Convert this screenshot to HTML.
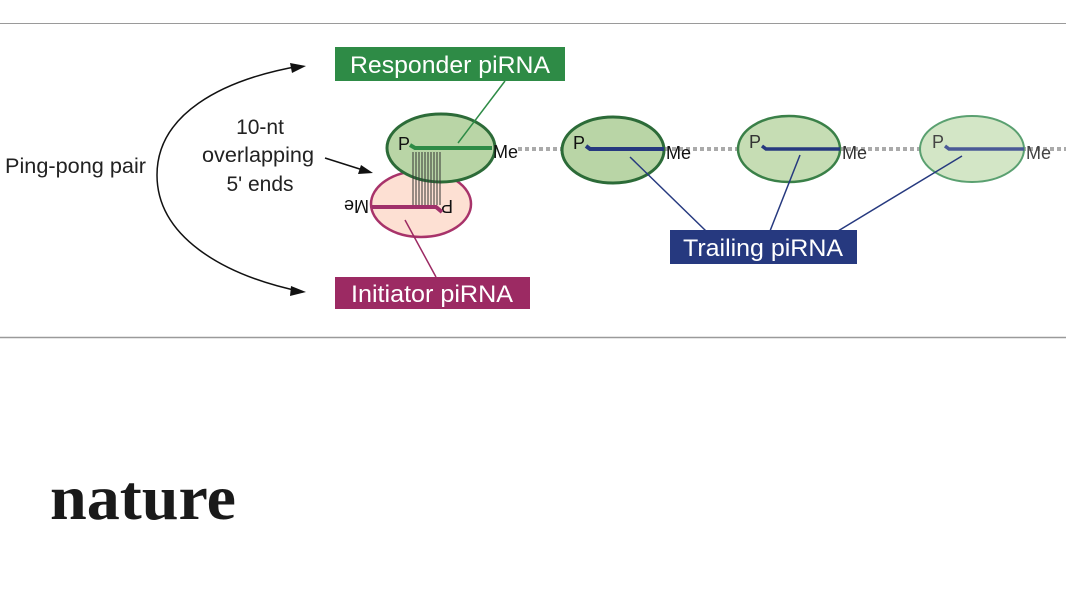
<!DOCTYPE html>
<html><head><meta charset="utf-8"><style>
html,body{margin:0;padding:0;background:#fff;}
svg{display:block;}
.s{font-family:"Liberation Sans",sans-serif;}
</style></head><body>
<svg width="1066" height="600" viewBox="0 0 1066 600" xmlns="http://www.w3.org/2000/svg">
<line x1="0" y1="23.5" x2="1066" y2="23.5" stroke="#9a9a9a" stroke-width="1"/>
<line x1="0" y1="337.5" x2="1066" y2="337.5" stroke="#9a9a9a" stroke-width="1.5"/>
<g class="s">
<text x="5" y="173" font-size="21" fill="#222" textLength="141" lengthAdjust="spacingAndGlyphs">Ping-pong pair</text>
<text x="260" y="134" font-size="21" fill="#222" text-anchor="middle">10-nt</text>
<text x="258" y="162" font-size="21" fill="#222" text-anchor="middle" textLength="112" lengthAdjust="spacingAndGlyphs">overlapping</text>
<text x="260" y="191" font-size="21" fill="#222" text-anchor="middle">5' ends</text>
</g>
<path d="M300,66 C220,80 157,115 157,175 C157,235 220,275 303,292" fill="none" stroke="#111" stroke-width="1.5"/>
<path d="M290,63 L306,66 L292,73 Z" fill="#111"/>
<path d="M291,286 L306,292 L290,296 Z" fill="#111"/>
<line x1="325" y1="158" x2="366" y2="171" stroke="#111" stroke-width="1.5"/>
<path d="M361,165 L373,173 L358,174 Z" fill="#111"/>

<line x1="518" y1="149" x2="1066" y2="149" stroke="#aaa" stroke-width="4" stroke-dasharray="4,3"/>

<ellipse cx="421" cy="204" rx="50" ry="33" fill="#fde0d3" stroke="#a8336a" stroke-width="2.5"/>
<ellipse cx="441" cy="148" rx="54" ry="34" fill="#b9d5a6" stroke="#2c6b38" stroke-width="3"/>
<g stroke="#333" stroke-width="1">
<line x1="413" y1="152" x2="413" y2="205"/><line x1="416" y1="152" x2="416" y2="205"/>
<line x1="419" y1="152" x2="419" y2="205"/><line x1="422" y1="152" x2="422" y2="205"/>
<line x1="425" y1="152" x2="425" y2="205"/><line x1="428" y1="152" x2="428" y2="205"/>
<line x1="431" y1="152" x2="431" y2="205"/><line x1="434" y1="152" x2="434" y2="205"/>
<line x1="437" y1="152" x2="437" y2="205"/><line x1="440" y1="152" x2="440" y2="205"/>
</g>
<path d="M410,145 L415,148 L492,148" fill="none" stroke="#2e8b46" stroke-width="4"/>
<g class="s" font-size="18" fill="#111">
<text x="398" y="150">P</text>
<text x="493" y="158">Me</text>
<text x="0" y="0" transform="translate(453,200) rotate(180)">P</text>
<text x="0" y="0" transform="translate(369,200) rotate(180)">Me</text>
</g>
<path d="M372,207 L436,207 L442,212" fill="none" stroke="#a0306a" stroke-width="4"/>

<ellipse cx="613" cy="150" rx="51" ry="33" fill="#b9d5a6" stroke="#2c6b38" stroke-width="3"/>
<ellipse cx="789" cy="149" rx="51" ry="33" fill="#c6ddb4" stroke="#3a8048" stroke-width="2.5"/>
<ellipse cx="972" cy="149" rx="52" ry="33" fill="#d3e6c6" stroke="#5aa070" stroke-width="2"/>
<path d="M586,146 L590,149 L664,149" fill="none" stroke="#26397f" stroke-width="4"/>
<path d="M762,146 L766,149 L840,149" fill="none" stroke="#26397f" stroke-width="3.5"/>
<path d="M945,146 L949,149 L1024,149" fill="none" stroke="#4a5a96" stroke-width="3.5"/>
<g class="s" font-size="18">
<text x="573" y="149" fill="#111">P</text>
<text x="666" y="159" fill="#111">Me</text>
<text x="749" y="148" fill="#333">P</text>
<text x="842" y="159" fill="#333">Me</text>
<text x="932" y="148" fill="#444">P</text>
<text x="1026" y="159" fill="#444">Me</text>
</g>

<line x1="505" y1="81" x2="458" y2="143" stroke="#2e8b46" stroke-width="1.5"/>
<line x1="405" y1="220" x2="436" y2="277" stroke="#9c2a63" stroke-width="1.5"/>
<line x1="630" y1="157" x2="706" y2="231" stroke="#26397f" stroke-width="1.5"/>
<line x1="800" y1="155" x2="770" y2="231" stroke="#26397f" stroke-width="1.5"/>
<line x1="962" y1="156" x2="838" y2="231" stroke="#26397f" stroke-width="1.5"/>

<rect x="335" y="47" width="230" height="34" fill="#2e8b46"/>
<rect x="335" y="277" width="195" height="32" fill="#9c2a63"/>
<rect x="670" y="230" width="187" height="34" fill="#26397f"/>
<g class="s" font-size="24" fill="#fff" text-anchor="middle">
<text x="450" y="73" textLength="200" lengthAdjust="spacingAndGlyphs">Responder piRNA</text>
<text x="432" y="302" textLength="162" lengthAdjust="spacingAndGlyphs">Initiator piRNA</text>
<text x="763" y="256" textLength="160" lengthAdjust="spacingAndGlyphs">Trailing piRNA</text>
</g>

<text x="50" y="519" style="font-family:'Liberation Serif',serif;font-weight:bold" font-size="64" fill="#1a1a1a" textLength="186" lengthAdjust="spacingAndGlyphs">nature</text>
</svg>
</body></html>
